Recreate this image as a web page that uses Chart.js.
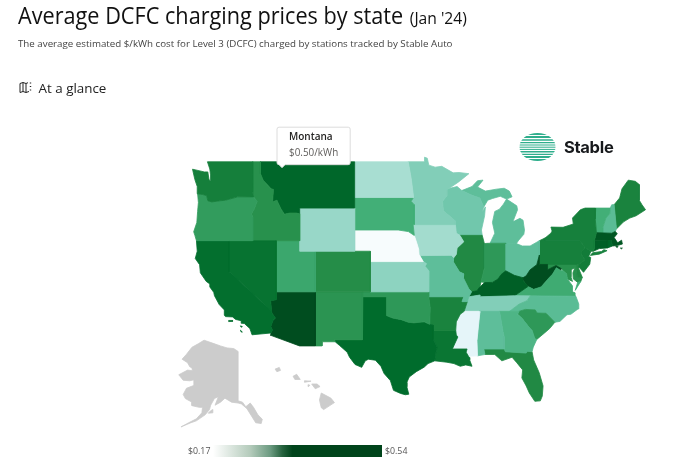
<!DOCTYPE html>
<html><head><meta charset="utf-8">
<script src="https://cdn.jsdelivr.net/npm/chart.js@4"></script>
<style>
html,body{margin:0;padding:0;background:#fff;width:680px;height:467px;overflow:hidden}
body{position:relative;font-family:"Open Sans","Noto Sans",sans-serif;color:#111}
canvas{position:absolute;left:0;top:0}
.t{position:absolute;white-space:nowrap}
#title{left:18px;top:-2px;font-size:23px;line-height:34px;color:#111;transform:scaleX(.942);transform-origin:0 0}
#title span{font-size:16.6px;margin-left:1px}
#sub{left:18px;top:37px;font-size:9.75px;line-height:14px;color:#444}
#glance{left:38.5px;top:79px;font-size:13.4px;line-height:18px;color:#222;font-weight:500}
#lo{left:188px;top:444px;font-size:8.8px;line-height:14px;color:#555}
#hi{left:385px;top:444px;font-size:8.8px;line-height:14px;color:#555}
#bar{position:absolute;left:213px;top:445px;width:169px;height:12px;background:linear-gradient(90deg,#fff 0%,#b4cbbb 22%,#6b9a80 34%,#27633f 41%,#00441b 47%,#00441b 100%)}
#brand{left:564px;top:135px;font-family:Inter,"Liberation Sans",sans-serif;font-weight:700;font-size:16.5px;line-height:24px;color:#17191c;letter-spacing:-.3px}
svg{position:absolute}
</style></head><body>
<canvas id="map" width="680" height="467"></canvas>
<div class="t" id="title">Average DCFC charging prices by state <span>(Jan '24)</span></div>
<div class="t" id="sub">The average estimated $/kWh cost for Level 3 (DCFC) charged by stations tracked by Stable Auto</div>
<svg style="left:19px;top:81px" width="14" height="13" viewBox="0 0 14 13" fill="none" stroke="#222" stroke-width="1"><path d="M1 2.5l3-1 3 1v9l-3-1-3 1zM4 1.5v9M7 2.5l2-.8M7 11.5l3-1"/><path d="M11.5 1.5v1M11.5 5v1M11.5 8.5v1" stroke-width="1.4"/></svg>
<div class="t" id="glance">At a glance</div>
<svg style="left:519px;top:132px" width="37" height="30" viewBox="0 0 37 30"><defs><clipPath id="c"><ellipse cx="18.5" cy="15" rx="18" ry="14"/></clipPath></defs><g clip-path="url(#c)" stroke="#2fae8c"><path stroke-width="1.8" d="M0 2h37M0 5h37"/><path stroke-width="1.4" d="M0 8h37M0 10.6h37"/><path stroke-width="1" d="M0 13h37M0 15.2h37M0 17.4h37"/><path stroke-width="1.4" d="M0 19.8h37M0 22.4h37"/><path stroke-width="1.8" d="M0 25h37M0 28h37"/></g></svg>
<div class="t" id="brand">Stable</div>
<div class="t" id="lo">$0.17</div><div id="bar"></div><div class="t" id="hi">$0.54</div>
<script>
const priceMin = 0.17, priceMax = 0.54;
const tickLabels = ['$0.17', '$0.54'];
const colorStops = ['#f7fcfd','#e5f5f9','#ccece6','#99d8c9','#66c2a4','#41ae76','#238b45','#006d2c','#00441b'];
const noDataColor = '#cccccc';

const stateNames = ['Washington','Oregon','California','Nevada','Idaho','Montana','Wyoming','Utah','Colorado','Arizona','New Mexico','North Dakota','South Dakota','Nebraska','Kansas','Oklahoma','Texas','Minnesota','Iowa','Missouri','Arkansas','Louisiana','Mississippi','Alabama','Georgia','Florida','South Carolina','North Carolina','Tennessee','Kentucky','Virginia','West Virginia','Ohio','Indiana','Illinois','Wisconsin','Michigan','Pennsylvania','New York','New Jersey','Delaware','Maryland','Connecticut','Rhode Island','Massachusetts','Vermont','New Hampshire','Maine'];
const statePrices = [0.466,0.425,0.49,0.485,0.44,0.50,0.31,0.41,0.445,0.53,0.435,0.295,0.40,0.17,0.32,0.43,0.495,0.33,0.30,0.365,0.46,0.48,0.215,0.365,0.385,0.45,0.43,0.37,0.33,0.51,0.405,0.53,0.365,0.43,0.45,0.345,0.365,0.465,0.465,0.47,0.45,0.44,0.51,0.50,0.52,0.40,0.37,0.46];

// state outlines as [longitude, latitude]
const stateRings = {
Washington:[[[-124.7,48.38],[-123.2,48.15],[-122.75,48.15],[-122.6,47.5],[-122.45,47.4],[-122.4,47.9],[-122.5,48.4],[-122.8,49],[-117.03,49],[-117.04,46.42],[-116.92,45.995],[-118.98,46],[-119.3,45.93],[-120.5,45.7],[-121.2,45.65],[-122.25,45.55],[-122.75,45.65],[-122.9,46.1],[-123.4,46.2],[-124.05,46.27],[-124.1,46.9],[-124.4,47.5]]],
Oregon:[[[-124.05,46.27],[-123.4,46.2],[-122.9,46.1],[-122.75,45.65],[-122.25,45.55],[-121.2,45.65],[-120.5,45.7],[-119.3,45.93],[-118.98,46],[-116.92,45.995],[-116.46,45.6],[-116.85,44.9],[-117.2,44.45],[-117.03,44.25],[-117.03,42],[-124.2,42],[-124.4,42.5],[-124.55,42.84],[-124.15,43.7],[-124.05,44.7],[-123.95,45.5]]],
California:[[[-124.2,42],[-120,42],[-120,39],[-114.63,35],[-114.57,34.8],[-114.14,34.3],[-114.43,34.08],[-114.72,33.4],[-114.52,33.03],[-114.72,32.72],[-117.12,32.53],[-117.25,32.85],[-117.4,33.2],[-118.1,33.73],[-118.4,33.75],[-118.5,34.03],[-119.2,34.15],[-119.6,34.42],[-120.5,34.45],[-120.65,34.6],[-120.65,35.15],[-121.3,35.7],[-121.9,36.6],[-122,36.95],[-122.5,37.5],[-122.5,37.8],[-122.95,38.05],[-123.7,38.9],[-123.8,39.7],[-124.35,40.3],[-124.1,41]],[[-120.1,34.05],[-119.6,34.05],[-119.6,33.95],[-120.1,33.93]],[[-118.6,33.48],[-118.35,33.4],[-118.5,33.33]],[[-118.6,33.02],[-118.35,32.82],[-118.5,32.82]]],
Nevada:[[[-120,42],[-114.04,42],[-114.04,36.2],[-114.75,36.1],[-114.63,35],[-120,39]]],
Idaho:[[[-117.03,49],[-116.05,49],[-116.05,48],[-115.7,47.45],[-114.7,46.7],[-114.4,46.65],[-114.5,45.55],[-113.95,45.7],[-113.45,44.95],[-113,44.45],[-112.3,44.55],[-111.5,44.55],[-111.05,44.48],[-111.05,42],[-117.03,42],[-117.03,44.25],[-117.2,44.45],[-116.85,44.9],[-116.46,45.6],[-116.92,45.995],[-117.04,46.42]]],
Montana:[[[-113.29,49],[-116.05,49],[-116.05,48],[-115.7,47.45],[-114.7,46.7],[-114.4,46.65],[-114.5,45.55],[-113.95,45.7],[-113.45,44.95],[-113,44.45],[-112.3,44.55],[-111.5,44.55],[-111.05,44.48],[-111.05,45],[-104.05,45],[-104.05,49]]],
Wyoming:[[[-111.05,45],[-104.05,45],[-104.05,41],[-111.05,41]]],
Utah:[[[-114.04,42],[-111.05,42],[-111.05,41],[-109.05,41],[-109.05,37],[-114.04,37]]],
Colorado:[[[-109.05,41],[-102.05,41],[-102.05,37],[-109.05,37]]],
Arizona:[[[-114.75,36.1],[-114.04,36.2],[-114.04,37],[-109.05,37],[-109.05,31.33],[-111.07,31.33],[-114.82,32.5],[-114.72,32.72],[-114.52,33.03],[-114.72,33.4],[-114.43,34.08],[-114.14,34.3],[-114.57,34.8],[-114.63,35]]],
'New Mexico':[[[-109.05,37],[-103,37],[-103.05,32],[-106.62,32],[-106.53,31.78],[-108.2,31.78],[-108.2,31.33],[-109.05,31.33]]],
'North Dakota':[[[-104.05,49],[-97.23,49],[-96.85,47.6],[-96.55,46],[-96.55,45.94],[-104.05,45.94]]],
'South Dakota':[[[-104.05,45.94],[-96.55,45.94],[-96.85,45.6],[-96.45,45.3],[-96.45,43.5],[-96.6,43.5],[-96.45,42.49],[-97.2,42.85],[-98.5,43],[-104.05,43]]],
Nebraska:[[[-104.05,43],[-98.5,43],[-97.2,42.85],[-96.45,42.49],[-96.1,41.7],[-95.9,41.2],[-95.85,40.7],[-95.31,40],[-102.05,40],[-102.05,41],[-104.05,41]]],
Kansas:[[[-102.05,40],[-95.31,40],[-94.9,39.8],[-95.1,39.55],[-94.6,39.1],[-94.62,37],[-102.05,37]]],
Oklahoma:[[[-103,37],[-94.62,37],[-94.62,36.5],[-94.43,35.4],[-94.48,33.64],[-95.2,33.9],[-96.5,33.8],[-97.2,33.85],[-98.1,34.13],[-99.2,34.3],[-100,34.56],[-100,36.5],[-103,36.5]]],
Texas:[[[-103,36.5],[-100,36.5],[-100,34.56],[-99.2,34.3],[-98.1,34.13],[-97.2,33.85],[-96.5,33.8],[-95.2,33.9],[-94.48,33.64],[-94.04,33.55],[-94.04,33],[-94.04,32],[-93.55,31.2],[-93.75,30.4],[-93.85,29.7],[-94.7,29.4],[-95.2,29],[-96.2,28.5],[-97.1,27.9],[-97.4,27.3],[-97.4,26.8],[-97.15,25.96],[-97.6,25.9],[-98.2,26.05],[-99.1,26.4],[-99.5,27.5],[-100.3,28.3],[-100.7,29.1],[-101.4,29.77],[-102.3,29.88],[-102.7,29.7],[-103.15,28.98],[-104,29.3],[-104.7,30.1],[-105,30.65],[-106,31.4],[-106.53,31.78],[-106.62,32],[-103.05,32]]],
Minnesota:[[[-97.23,49],[-95.15,49],[-95.15,49.38],[-94.8,49.3],[-94.6,48.72],[-93.8,48.55],[-92.95,48.62],[-91.5,48.07],[-90.75,48.1],[-89.5,48],[-90.8,47.3],[-92.05,46.72],[-92.3,46.66],[-92.3,46.1],[-92.85,45.6],[-92.75,44.75],[-91.25,43.85],[-91.22,43.5],[-96.45,43.5],[-96.45,45.3],[-96.85,45.6],[-96.55,45.94],[-96.55,46],[-96.85,47.6]]],
Iowa:[[[-96.6,43.5],[-91.22,43.5],[-91.1,42.7],[-90.64,42.5],[-90.15,41.9],[-91,41.3],[-91.1,40.7],[-91.42,40.38],[-91.73,40.61],[-95.77,40.58],[-95.85,40.7],[-95.9,41.2],[-96.1,41.7],[-96.45,42.49]]],
Missouri:[[[-95.77,40.58],[-91.73,40.61],[-91.42,40.38],[-91.5,40],[-90.7,39],[-90.15,38.8],[-90.2,38.4],[-89.5,37.3],[-89.15,37],[-89.5,36.5],[-89.7,36],[-90.38,36],[-90.15,36.5],[-94.62,36.5],[-94.62,37],[-94.6,39.1],[-95.1,39.55],[-94.9,39.8],[-95.31,40]]],
Arkansas:[[[-94.62,36.5],[-90.15,36.5],[-90.38,36],[-89.7,36],[-90.1,35],[-90.6,34.7],[-91.1,33.9],[-91.17,33],[-94.04,33],[-94.04,33.55],[-94.48,33.64],[-94.43,35.4]]],
Louisiana:[[[-94.04,33],[-91.17,33],[-91.1,32.5],[-90.9,32.3],[-91.6,31],[-89.73,31],[-89.85,30.65],[-89.55,30.2],[-89.4,30.05],[-89.4,29.8],[-89.1,29.1],[-89.9,29.25],[-90.6,29.1],[-91.4,29.4],[-92.3,29.55],[-93.85,29.7],[-93.75,30.4],[-93.55,31.2],[-94.04,32]]],
Mississippi:[[[-91.17,33],[-91.1,33.9],[-90.6,34.7],[-90.1,35],[-88.2,35],[-88.1,34.9],[-88.47,31.9],[-88.4,30.25],[-89.55,30.2],[-89.85,30.65],[-89.73,31],[-91.6,31],[-90.9,32.3],[-91.1,32.5]]],
Alabama:[[[-88.2,35],[-85.6,35],[-85.15,32.85],[-85,32.3],[-85,31],[-87.6,31],[-87.45,30.4],[-88.4,30.25],[-88.47,31.9],[-88.1,34.9]]],
Georgia:[[[-85.6,35],[-83.1,35],[-83.3,34.7],[-82.75,34.3],[-81.9,33.4],[-81.45,33],[-81.1,32.1],[-80.85,32.03],[-81.3,31.2],[-81.45,30.7],[-82.05,30.75],[-82.2,30.55],[-84.85,30.7],[-85,31],[-85,32.3],[-85.15,32.85]]],
Florida:[[[-87.6,31],[-85,31],[-84.85,30.7],[-82.2,30.55],[-82.05,30.75],[-81.45,30.7],[-81.25,29.8],[-80.55,28.4],[-80.05,26.9],[-80.15,25.75],[-80.4,25.2],[-81.1,25.15],[-81.8,26.1],[-82.2,26.9],[-82.75,27.8],[-82.65,28.7],[-83.4,29.5],[-84,30.1],[-85.3,29.7],[-86.2,30.4],[-87.45,30.4]]],
'South Carolina':[[[-83.1,35],[-82.3,35.2],[-81.05,35.15],[-80.8,34.82],[-79.67,34.8],[-78.55,33.86],[-79.2,33.2],[-79.9,32.7],[-80.85,32.03],[-81.1,32.1],[-81.45,33],[-81.9,33.4],[-82.75,34.3],[-83.3,34.7]]],
'North Carolina':[[[-84.32,35],[-83.1,35],[-82.3,35.2],[-81.05,35.15],[-80.8,34.82],[-79.67,34.8],[-78.55,33.86],[-77.9,33.95],[-77,34.65],[-76.5,34.7],[-75.6,35.25],[-75.5,35.75],[-75.87,36.55],[-81.68,36.59],[-82.1,36.1],[-83.1,35.75]]],
Tennessee:[[[-90.1,35],[-88.2,35],[-85.6,35],[-84.32,35],[-83.1,35.75],[-82.1,36.1],[-81.68,36.59],[-83.68,36.6],[-88.07,36.5],[-88.07,36.68],[-89.5,36.5],[-89.7,36]]],
Kentucky:[[[-89.5,36.5],[-88.07,36.68],[-88.07,36.5],[-83.68,36.6],[-81.97,37.54],[-82.6,38.17],[-82.6,38.42],[-83.7,38.65],[-84.8,39.1],[-85.4,38.73],[-85.8,38.28],[-86.5,37.95],[-87.5,37.93],[-88.1,37.5],[-88.5,37.1],[-89.15,37]]],
Virginia:[[[-83.68,36.6],[-75.87,36.55],[-75.97,36.9],[-76.3,37],[-76.3,37.6],[-76.95,38.3],[-77.05,38.8],[-77.5,39.1],[-77.83,39.14],[-78.35,39.4],[-78.85,38.77],[-79.3,38.4],[-80.3,37.5],[-81.25,37.25],[-81.97,37.54]],[[-75.95,37.15],[-75.6,37.6],[-75.25,38.03],[-75.65,37.95]]],
'West Virginia':[[[-81.97,37.54],[-81.25,37.25],[-80.3,37.5],[-79.3,38.4],[-78.85,38.77],[-78.35,39.4],[-77.83,39.14],[-77.72,39.32],[-78.4,39.62],[-79.48,39.2],[-79.48,39.72],[-80.52,39.72],[-80.52,40.64],[-80.85,39.7],[-81.7,39.2],[-82.2,38.6],[-82.6,38.42],[-82.6,38.17]]],
Ohio:[[[-84.8,41.7],[-83.45,41.73],[-82.7,41.5],[-81.7,41.5],[-80.52,42],[-80.52,40.64],[-80.85,39.7],[-81.7,39.2],[-82.2,38.6],[-82.6,38.42],[-83.7,38.65],[-84.8,39.1]]],
Indiana:[[[-87.52,41.72],[-87.2,41.75],[-86.8,41.76],[-84.8,41.76],[-84.8,39.1],[-85.4,38.73],[-85.8,38.28],[-86.5,37.95],[-87.5,37.93],[-87.95,38],[-87.52,39.35]]],
Illinois:[[[-90.64,42.5],[-87.8,42.5],[-87.52,41.72],[-87.52,39.35],[-87.95,38],[-88.1,37.5],[-88.5,37.1],[-89.15,37],[-89.5,37.3],[-90.2,38.4],[-90.15,38.8],[-90.7,39],[-91.5,40],[-91.42,40.38],[-91.1,40.7],[-91,41.3],[-90.15,41.9]]],
Wisconsin:[[[-92.3,46.66],[-92.05,46.72],[-91,46.9],[-90.4,46.55],[-89.1,46.13],[-88.1,45.9],[-87.6,45.1],[-87.85,44.6],[-87.4,45.1],[-87.5,44.3],[-87.9,43],[-87.8,42.5],[-90.64,42.5],[-91.1,42.7],[-91.22,43.5],[-91.25,43.85],[-92.75,44.75],[-92.85,45.6],[-92.3,46.1]]],
Michigan:[[[-86.8,41.76],[-84.8,41.76],[-84.8,41.7],[-83.45,41.73],[-83.15,42.05],[-82.5,42.6],[-82.42,43],[-82.6,43.9],[-83,44.07],[-83.9,43.75],[-83.3,44.85],[-83.4,45.2],[-84.7,45.8],[-85.1,45.35],[-85.6,44.9],[-86.2,44.7],[-86.5,43.7],[-86.2,42.7]],[[-90.4,46.55],[-89.1,46.9],[-88.4,47.4],[-87.7,47.45],[-88.4,46.85],[-87.4,46.5],[-86,46.67],[-85,46.75],[-84.35,46.5],[-84,46],[-84.7,45.8],[-85.5,46.05],[-86.5,45.85],[-87.1,45.7],[-87.6,45.1],[-88.1,45.9],[-89.1,46.13]]],
Pennsylvania:[[[-80.52,42],[-79.76,42.27],[-79.76,42],[-75.35,42],[-74.7,41.36],[-75.13,40.97],[-75.2,40.7],[-74.72,40.15],[-75.4,39.8],[-75.8,39.72],[-80.52,39.72]]],
'New York':[[[-79.76,42.27],[-79.06,42.7],[-78.9,42.9],[-79.05,43.27],[-77.5,43.25],[-76.2,43.55],[-76.3,44.1],[-75.3,44.85],[-74.7,45],[-73.35,45],[-73.4,44],[-73.25,42.75],[-73.5,42.05],[-73.5,41.3],[-73.65,41],[-73.95,41],[-74.7,41.36],[-75.35,42],[-79.76,42]],[[-74.03,40.6],[-73.75,40.85],[-72.6,40.98],[-72.3,41.15],[-71.9,41.05],[-72.9,40.72]]],
'New Jersey':[[[-74.7,41.36],[-73.95,41],[-74.25,40.5],[-73.98,40.4],[-74.1,39.75],[-74.9,38.95],[-75.5,39.5],[-75.4,39.8],[-74.72,40.15],[-75.2,40.7],[-75.13,40.97]]],
Delaware:[[[-75.8,39.72],[-75.4,39.8],[-75.5,39.3],[-75.05,38.45],[-75.7,38.46]]],
Maryland:[[[-79.48,39.72],[-75.8,39.72],[-75.7,38.46],[-75.05,38.45],[-75.25,38.03],[-75.65,37.95],[-76.2,38.3],[-76.25,38.9],[-76,39.4],[-76.5,39.2],[-76.5,38.5],[-76.3,38.05],[-76.95,38.3],[-77.05,38.8],[-77.5,39.1],[-77.72,39.32],[-78.4,39.62],[-79.48,39.2]]],
Connecticut:[[[-73.5,42.05],[-71.8,42.02],[-71.85,41.32],[-72.9,41.25],[-73.65,41],[-73.5,41.3]]],
'Rhode Island':[[[-71.8,42.02],[-71.38,42.02],[-71.2,41.5],[-71.85,41.32]]],
Massachusetts:[[[-73.5,42.05],[-73.25,42.75],[-71.3,42.7],[-70.85,42.87],[-70.6,42.65],[-71,42.3],[-70.55,41.8],[-70.05,42.05],[-69.95,41.68],[-70.6,41.55],[-71.2,41.5],[-71.38,42.02],[-71.8,42.02]],[[-70.8,41.45],[-70.5,41.45],[-70.6,41.35]],[[-70.2,41.3],[-69.95,41.3],[-70.05,41.23]]],
Vermont:[[[-73.35,45],[-71.5,45],[-71.55,44.5],[-72.05,44.1],[-72.45,43.2],[-72.46,42.73],[-73.25,42.75],[-73.4,44]]],
'New Hampshire':[[[-71.5,45],[-71.3,45.3],[-71,45.3],[-70.7,43.1],[-70.85,42.87],[-71.3,42.7],[-72.46,42.73],[-72.45,43.2],[-72.05,44.1],[-71.55,44.5]]],
Maine:[[[-71,45.3],[-70.3,45.9],[-70,46.7],[-69.2,47.45],[-68.3,47.35],[-67.8,47.07],[-67.8,45.7],[-67.45,45.3],[-67,44.85],[-68.2,44.3],[-69,44.1],[-69.8,43.75],[-70.7,43.1]]]
};
const alaskaRings = [[[-141,69.65],[-143,70.1],[-146,70.2],[-149,70.5],[-152,70.85],[-156.5,71.35],[-159,70.85],[-162,70.3],[-164.5,69.2],[-166.5,68.4],[-164,67.8],[-163,67.1],[-162,66.9],[-161.8,66.4],[-164,66.5],[-168,65.65],[-166,64.6],[-163,64.5],[-161,64.7],[-161,63.6],[-164.5,63],[-166,61.7],[-165,60.8],[-162,60],[-162,59.2],[-158.7,58.8],[-157.2,58.8],[-157.5,57.5],[-160,56],[-163.5,55],[-167,53.9],[-162.5,55],[-160,55.5],[-156,57],[-154,58.3],[-153.5,59.3],[-151.8,60.8],[-150,61.2],[-151.5,59.3],[-149,60],[-147,60.9],[-144,60],[-141,59.8],[-139.5,59.6],[-137,58.5],[-135,56.8],[-133,55],[-130.5,54.8],[-130,55.9],[-132,57],[-134,58.8],[-135.5,59.8],[-137.5,58.95],[-139,60],[-141,60.3]],[[-154.6,57.4],[-152.5,57.5],[-152.5,58.3],[-153.5,58]]];
const hawaiiRings = [[[-155.9,20.25],[-155.1,19.85],[-154.8,19.5],[-155.7,18.95],[-155.9,19.1],[-156.05,19.7]],[[-156.7,20.95],[-156.25,20.95],[-156,20.75],[-156.4,20.58]],[[-158.25,21.55],[-157.95,21.7],[-157.65,21.3],[-158.1,21.3]],[[-157.3,21.2],[-156.75,21.17],[-157.3,21.08]],[[-157,20.9],[-156.85,20.85],[-156.95,20.75]],[[-159.75,22.1],[-159.4,22.23],[-159.3,22],[-159.6,21.9]]];

// Mercator projection onto the chart's linear axes
const merc = lat => Math.log(Math.tan(Math.PI / 4 + lat * Math.PI / 360)) * 180 / Math.PI;
const mainland = r => r.map(([lon, lat]) => ({ x: lon, y: merc(lat) }));
const inset = (k, lon0, lat0, x0, y0) => r => r.map(([lon, lat]) => ({ x: x0 + (lon - lon0) * k, y: y0 + (merc(lat) - merc(lat0)) * k }));
const alaskaInset = inset(0.28, -141, 71.4, -118.89, 33.79);
const hawaiiInset = inset(1.527, -159.5, 22.05, -113.8, 30.0);

function priceColor(p) {
  const t = Math.max(0, Math.min(1, (p - priceMin) / (priceMax - priceMin))) * (colorStops.length - 1);
  const i = Math.min(Math.floor(t), colorStops.length - 2), f = t - i;
  const rgb = h => [1, 3, 5].map(n => parseInt(h.substr(n, 2), 16));
  const a = rgb(colorStops[i]), b = rgb(colorStops[i + 1]);
  return `rgb(${a.map((v, n) => Math.round(v + (b[n] - v) * f)).join(',')})`;
}
const ringDataset = (label, pts, color, price) => ({
  label, price, data: pts.concat([pts[0]]), showLine: true, fill: 'shape', tension: 0,
  backgroundColor: color, borderColor: color, borderWidth: 0.8, pointRadius: 0, pointHoverRadius: 0, clip: false
});
const datasets = [];
stateNames.forEach((name, i) => stateRings[name].forEach(r => datasets.push(ringDataset(name, mainland(r), priceColor(statePrices[i]), statePrices[i]))));
alaskaRings.forEach(r => datasets.push(ringDataset('Alaska', alaskaInset(r), noDataColor)));
hawaiiRings.forEach(r => datasets.push(ringDataset('Hawaii', hawaiiInset(r), noDataColor)));

Chart.Tooltip.positioners.stateEdge = items => items.length ? { x: items[0].element.x, y: items[0].element.y + 6 } : false;

const chart = new Chart(document.getElementById('map'), {
  type: 'scatter',
  data: { datasets },
  options: {
    responsive: false, animation: false, events: [],
    layout: { padding: 0 },
    scales: {
      x: { type: 'linear', display: false, min: -149.17, max: -62.66 },
      y: { type: 'linear', display: false, min: 17.72, max: 76.83 }
    },
    plugins: {
      legend: { display: false },
      tooltip: {
        position: 'stateEdge', backgroundColor: '#fff', borderColor: '#dcdcdc', borderWidth: 1,
        titleColor: '#252423', bodyColor: '#605e5c', displayColors: false, cornerRadius: 2, caretSize: 3, caretPadding: 0,
        padding: { left: 12, right: 12, top: 4, bottom: 6 }, titleMarginBottom: 3.6, xAlign: 'left', yAlign: 'bottom',
        titleFont: { family: 'Open Sans', size: 10, weight: '600' }, bodyFont: { family: 'Open Sans', size: 9.9 },
        callbacks: {
          title: it => it[0].dataset.label,
          label: it => '$' + it.dataset.price.toFixed(2) + '/kWh'
        }
      }
    }
  }
});
const idx = datasets.findIndex(d => d.label === 'Montana');
chart.tooltip.setActiveElements([{ datasetIndex: idx, index: 0 }], { x: 0, y: 0 });
chart.update();
</script>
</body></html>
